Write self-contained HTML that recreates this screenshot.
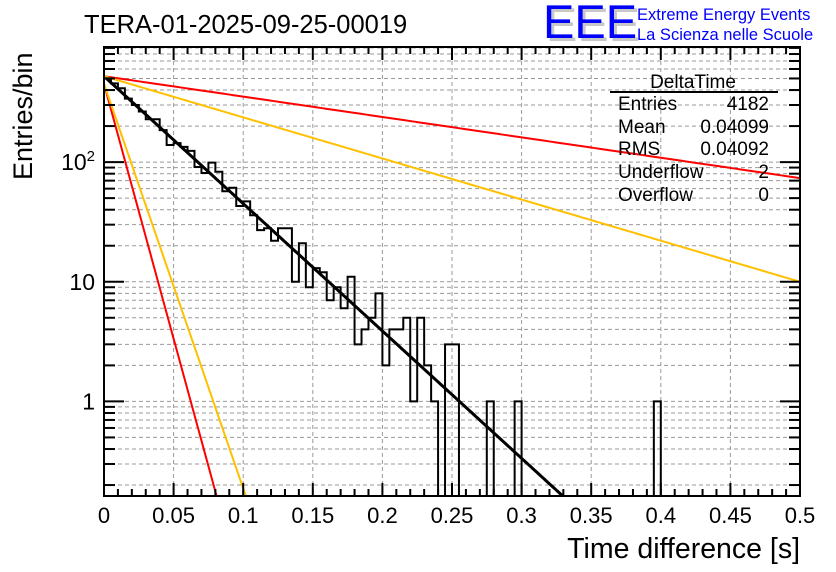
<!DOCTYPE html>
<html><head><meta charset="utf-8">
<style>
body{margin:0;background:#fff;width:836px;height:572px;overflow:hidden;font-family:"Liberation Sans",sans-serif}
svg{display:block}
text{font-family:"Liberation Sans",sans-serif}
</style></head>
<body>
<svg id="chart" width="836" height="572" viewBox="0 0 836 572" xmlns="http://www.w3.org/2000/svg">
  <text x="84" y="33" font-size="25.5">TERA-01-2025-09-25-00019</text>
  <g>
    <text x="546" y="41" font-size="47" fill="#c8c8c8">EEE</text>
    <text x="543" y="38" font-size="47" fill="#0000ff">EEE</text>
    <text x="637" y="20" font-size="16.5" fill="#0000ff">Extreme Energy Events</text>
    <text x="637" y="40" font-size="16.5" fill="#0000ff">La Scienza nelle Scuole</text>
  </g>
  <g id="grid"></g>
  <g id="fits"></g>
  <path id="hist" fill="none" stroke="#000" stroke-width="2"/>
  <g id="axes"></g>
  <text transform="translate(32,180) rotate(-90)" font-size="27">Entries/bin</text>
  <text x="800" y="558" font-size="28.5" text-anchor="end">Time difference [s]</text>
  <g font-size="19">
    <text x="693" y="88" text-anchor="middle">DeltaTime</text>
    <line x1="610" y1="92" x2="778" y2="92" stroke="#000" stroke-width="2"/>
    <text x="618" y="110">Entries</text><text x="769" y="110" text-anchor="end">4182</text>
    <text x="618" y="133">Mean</text><text x="769" y="133" text-anchor="end">0.04099</text>
    <text x="618" y="155">RMS</text><text x="769" y="155" text-anchor="end">0.04092</text>
    <text x="618" y="178">Underflow</text><text x="769" y="178" text-anchor="end">2</text>
    <text x="618" y="201">Overflow</text><text x="769" y="201" text-anchor="end">0</text>
  </g>
</svg>
<script>
const counts = [501,455,414,339,300,265,228,228,185,139,144,134,124,91,81,99,83,57,61,43,47,36,27,28,22,28,28,10,21,9,13,12,7,9,6,11,3,4,5,8,2,4,4,5,1,5,2,1,0,3,3,0,0,0,0,1,0,0,0,1,0,0,0,0,0,0,0,0,0,0,0,0,0,0,0,0,0,0,0,1,0,0,0,0,0,0,0,0,0,0,0,0,0,0,0,0,0,0,0,0];
const binWidth = [0.005];
const fitAmp = [522, 522, 522, 450, 450];
const fitTau = [0.0408, 0.255, 0.1264, 0.0102, 0.01285];
const fitColor = ['#000','#ff0000','#ffc000','#ff0000','#ffc000'];
const fitName = ['fit-exponential','fit-upper-red','fit-upper-orange','fit-lower-red','fit-lower-orange'];
const xTicks = [0,0.05,0.1,0.15,0.2,0.25,0.3,0.35,0.4,0.45,0.5];
const xTickLabels = ['0','0.05','0.1','0.15','0.2','0.25','0.3','0.35','0.4','0.45','0.5'];
const yMajor = [1,10,100];
const yRange = [0.162, 916];
const xRange = [0, 0.5];

const L=104,R=800,T=47,B=496;
const NS='http://www.w3.org/2000/svg';
const X=v=>L+(v-xRange[0])/(xRange[1]-xRange[0])*(R-L);
const lg=Math.log10;
const Y=v=>B-(lg(v)-lg(yRange[0]))/(lg(yRange[1])-lg(yRange[0]))*(B-T);
function mk(tag,parent,attrs){const e=document.createElementNS(NS,tag);for(const k in attrs)e.setAttribute(k,attrs[k]);parent.appendChild(e);return e;}
const grid=document.getElementById('grid'),axes=document.getElementById('axes'),fits=document.getElementById('fits');

xTicks.forEach(v=>{if(v>0&&v<0.5){const l=mk('line',grid,{x1:X(v),x2:X(v),y1:T,y2:B,stroke:'#999','stroke-dasharray':'4,3','stroke-width':1});

}});
for(let d=-1;d<=2;d++)for(let m=1;m<=9;m++){const v=m*Math.pow(10,d);if(v>yRange[0]&&v<yRange[1]){const l=mk('line',grid,{x1:L,x2:R,y1:Y(v),y2:Y(v),stroke:'#999','stroke-dasharray':'4,3','stroke-width':1});

}}

fitAmp.forEach((A,i)=>{let d='';for(let j=0;j<=400;j++){const t=j/400*0.5;const v=A*Math.exp(-t/fitTau[i]);if(v<yRange[0]){const tt=fitTau[i]*Math.log(A/yRange[0]);d+='L'+X(tt)+','+B;break;}d+=(j?'L':'M')+X(t)+','+Y(v);}
const p=mk('path',fits,{d:d,fill:'none',stroke:fitColor[i],'stroke-width':i==0?3:2});

});

const yv=c=>c>0?Y(c):B;
let d='M'+X(0)+','+yv(counts[0]);
counts.forEach((c,k)=>{const x0=X(k*binWidth[0]),x1=X((k+1)*binWidth[0]);d+='L'+x0+','+yv(c)+'L'+x1+','+yv(c);});
document.getElementById('hist').setAttribute('d',d);

mk('rect',axes,{x:L,y:T,width:R-L,height:B-T,fill:'none',stroke:'#000','stroke-width':2});
for(let i=0;i<=50;i++){const v=i*0.01,x=X(v),len=i%5==0?13:7;
mk('line',axes,{x1:x,x2:x,y1:B,y2:B-len,stroke:'#000','stroke-width':2});
mk('line',axes,{x1:x,x2:x,y1:T,y2:T+len,stroke:'#000','stroke-width':2});}
xTicks.forEach((v,i)=>{const t=mk('text',axes,{x:X(v),y:523,'font-size':22,'text-anchor':'middle'});t.textContent=xTickLabels[i];

});
for(let d2=-1;d2<=2;d2++)for(let m=1;m<=9;m++){const v=m*Math.pow(10,d2);if(v>yRange[0]&&v<yRange[1]){const y=Y(v),len=m==1?20:11;
mk('line',axes,{x1:L,x2:L+len,y1:y,y2:y,stroke:'#000','stroke-width':2});
mk('line',axes,{x1:R,x2:R-len,y1:y,y2:y,stroke:'#000','stroke-width':2});}}
yMajor.forEach(v=>{const t=mk('text',axes,{x:95,y:Y(v)+8,'font-size':23,'text-anchor':'end'});


if(v==100){t.innerHTML='10<tspan dy="-9" font-size="15">2</tspan>';}else t.textContent=String(v);});
</script>
</body></html>
